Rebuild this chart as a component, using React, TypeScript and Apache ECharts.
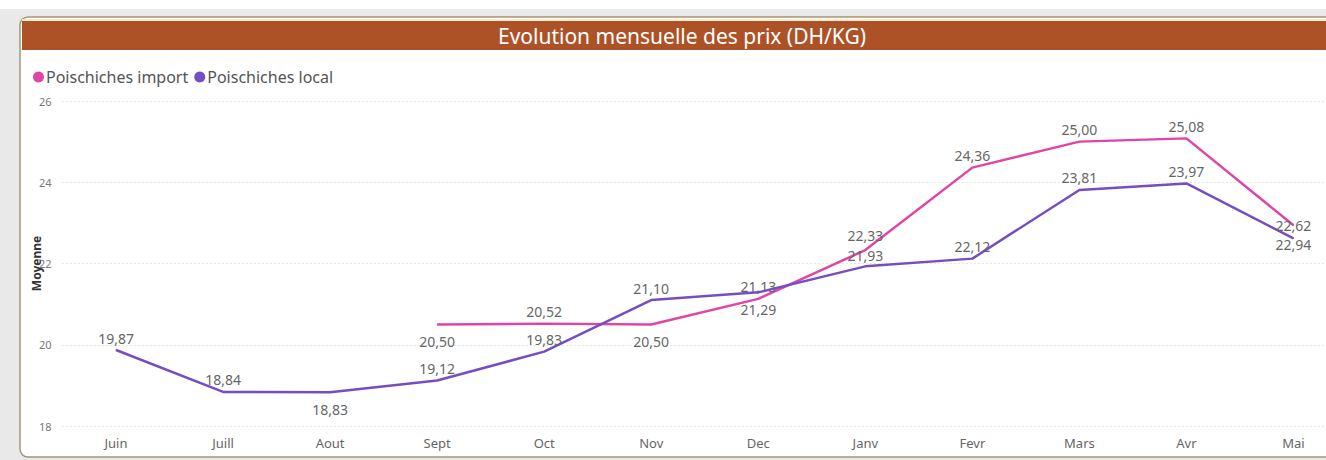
import React, { useEffect, useRef } from "react";
import * as echarts from "echarts";

const months = ["Juin", "Juill", "Aout", "Sept", "Oct", "Nov", "Dec", "Janv", "Fevr", "Mars", "Avr", "Mai"];
const importValues: (number | null)[] = [null, null, null, 20.5, 20.52, 20.5, 21.13, 22.33, 24.36, 25.0, 25.08, 22.94];
const localValues: number[] = [19.87, 18.84, 18.83, 19.12, 19.83, 21.1, 21.29, 21.93, 22.12, 23.81, 23.97, 22.62];
const yTicks = [18, 20, 22, 24, 26];
const importLabelsBelow = [3, 5, 11];
const localLabelsBelow = [2, 6];

const FONT = "'Noto Sans', 'Open Sans', sans-serif";
const fmt = (v: number) => v.toFixed(2).replace(".", ",");

function buildData(values: (number | null)[], below: number[], nudge: Record<number, number>) {
  return values.map((v, i) =>
    v == null
      ? null
      : {
          value: v,
          label: below.includes(i)
            ? { position: "bottom", distance: 9 + (nudge[i] || 0) }
            : { position: "top", distance: 4 + (nudge[i] || 0) },
        }
  );
}

export default function App() {
  const ref = useRef<HTMLDivElement>(null);
  useEffect(() => {
    if (!ref.current) return;
    const chart = echarts.init(ref.current, undefined, { renderer: "svg" });
    const labelStyle = {
      show: true,
      color: "#666666",
      fontSize: 14,
      lineHeight: 15,
      fontFamily: FONT,
      distance: 4,
      formatter: (p: any) => fmt(p.value),
    };
    chart.setOption({
      animation: false,
      graphic: [
        { type: "rect", z: -10, shape: { x: 0, y: 9, width: 1360, height: 451 }, style: { fill: "#e9e9e9" } },
        {
          type: "rect",
          z: -9,
          shape: { x: 20, y: 17, width: 1340, height: 440, r: 8 },
          style: { fill: "#ffffff", stroke: "#a39774", lineWidth: 1.5 },
        },
        { type: "rect", z: -8, shape: { x: 22, y: 19, width: 1330, height: 2 }, style: { fill: "#f5ecd0" } },
        { type: "rect", z: -8, shape: { x: 22, y: 21, width: 1330, height: 29 }, style: { fill: "#ad5227" } },
      ],
      title: {
        text: "Evolution mensuelle des prix (DH/KG)",
        left: 682,
        textAlign: "center",
        top: 25,
        padding: 0,
        textStyle: { color: "#ffffff", fontSize: 21, fontWeight: "normal", fontFamily: FONT },
      },
      legend: {
        left: 28,
        top: 64,
        icon: "circle",
        itemWidth: 11,
        itemHeight: 11,
        itemGap: 6,
        textStyle: { color: "#555555", fontSize: 16, fontFamily: FONT, padding: [0, 0, 0, -3] },
        data: ["Poischiches import", "Poischiches local"],
      },
      grid: { left: 62.5, right: 0, top: 101, bottom: 34 },
      xAxis: {
        type: "category",
        data: months,
        boundaryGap: true,
        axisLine: { show: false },
        axisTick: { show: false },
        axisLabel: { color: "#666666", fontSize: 13, fontFamily: FONT, margin: 10 },
      },
      yAxis: {
        type: "value",
        min: yTicks[0],
        max: yTicks[yTicks.length - 1],
        interval: 2,
        name: "Moyenne",
        nameLocation: "middle",
        nameGap: 20,
        nameMoveOverlap: false,
        nameTextStyle: { color: "#333333", fontSize: 12, fontFamily: FONT, fontWeight: "bold" },
        axisLabel: { color: "#777777", fontSize: 11, fontFamily: FONT, margin: 11 },
        splitLine: { lineStyle: { color: "#cccccc", type: [1, 3], width: 1 } },
      },
      series: [
        {
          name: "Poischiches import",
          type: "line",
          data: buildData(importValues, importLabelsBelow, { 7: 3, 11: 2 }),
          color: "#e044a7",
          showSymbol: true,
          symbol: "circle",
          symbolSize: 1,
          lineStyle: { width: 2.5, color: "#e044a7" },
          label: labelStyle,
          labelLayout: { hideOverlap: false },
          z: 3,
        },
        {
          name: "Poischiches local",
          type: "line",
          data: buildData(localValues, localLabelsBelow, { 7: -1, 11: 1 }),
          color: "#744ec2",
          showSymbol: true,
          symbol: "circle",
          symbolSize: 1,
          lineStyle: { width: 2.5, color: "#744ec2" },
          label: labelStyle,
          labelLayout: { hideOverlap: false },
          z: 4,
        },
      ],
    });
    return () => chart.dispose();
  }, []);
  return (
    <div
      ref={ref}
      style={{ position: "fixed", left: 0, top: 0, width: 1347, height: 460, background: "#ffffff" }}
    />
  );
}
